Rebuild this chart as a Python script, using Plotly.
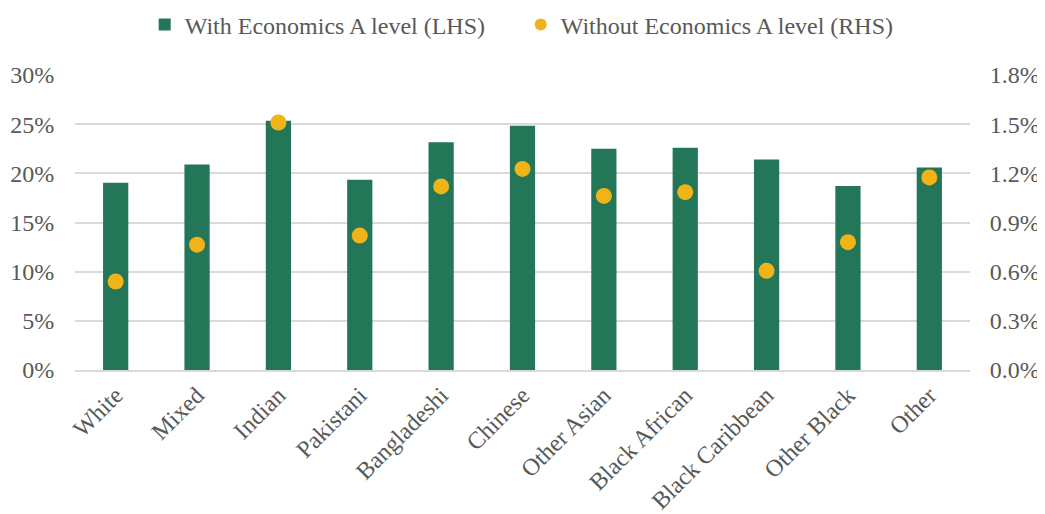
import plotly.graph_objects as go

categories = ["White", "Mixed", "Indian", "Pakistani", "Bangladeshi", "Chinese",
              "Other Asian", "Black African", "Black Caribbean", "Other Black", "Other"]
with_econ = [19.05, 20.9, 25.35, 19.35, 23.15, 24.85, 22.5, 22.6, 21.4, 18.7, 20.6]
without_econ = [0.54, 0.765, 1.51, 0.82, 1.12, 1.227, 1.062, 1.085, 0.605, 0.78, 1.175]

font_family = "Liberation Serif, Times New Roman, serif"
text_color = "#595959"
green = "#237657"
yellow = "#F0B418"
fs = 24

fig = go.Figure()
fig.add_trace(go.Bar(
    x=categories, y=with_econ, name="With Economics A level (LHS)",
    marker=dict(color=green, line=dict(width=0)), yaxis="y",
))
fig.add_trace(go.Scatter(
    x=categories, y=without_econ, name="Without Economics A level (RHS)",
    mode="markers", marker=dict(color=yellow, size=16, symbol="circle"),
    yaxis="y2",
))

fig.update_layout(
    width=1045, height=514,
    margin=dict(l=67, r=83, t=67, b=152, autoexpand=False),
    paper_bgcolor="white", plot_bgcolor="white",
    font=dict(family=font_family, size=fs, color=text_color),
    bargap=0.69,
    showlegend=True,
    legend=dict(orientation="h", x=0.498, xanchor="center", y=1.17, yanchor="middle",
                font=dict(size=fs, color=text_color), itemsizing="constant",
                tracegroupgap=0, itemwidth=30, entrywidth=331),
    xaxis=dict(
        range=[-0.5, len(categories) - 0.5], autorange=False,
        tickangle=-45, showgrid=False, showline=True, linecolor="#d9d9d9", linewidth=1.5,
        ticks="", tickfont=dict(size=fs, color=text_color), automargin=False,
    ),
    yaxis=dict(
        range=[0, 30], dtick=5, ticksuffix="%", showgrid=True, gridcolor="#d9d9d9",
        gridwidth=1.5, zeroline=False, showline=False,
        ticks="outside", ticklen=15, tickcolor="rgba(0,0,0,0)",
        tickfont=dict(size=fs, color=text_color), automargin=False,
    ),
    yaxis2=dict(
        range=[0, 1.8], dtick=0.3, tickformat=".1f", ticksuffix="%", overlaying="y",
        side="right", showgrid=False, zeroline=False, showline=False,
        ticks="outside", ticklen=14, tickcolor="rgba(0,0,0,0)",
        tickfont=dict(size=fs, color=text_color), automargin=False,
    ),
)

fig.write_html("out.html")
